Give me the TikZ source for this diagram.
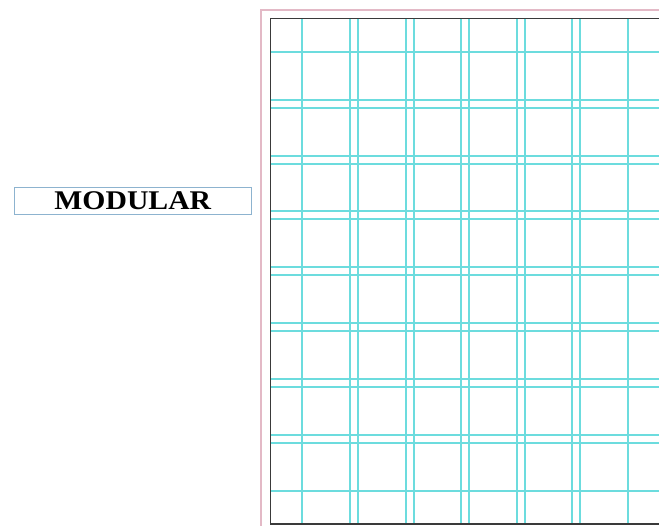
\documentclass[tikz,border=0pt]{standalone}
\usepackage{fontspec}
\newfontfamily\labelfont[FakeStretch=1.1]{Liberation Serif}
\usetikzlibrary{positioning}
\definecolor{gridcyan}{RGB}{108,220,222}
\definecolor{bleedpink}{RGB}{227,185,198}
\definecolor{tagframe}{RGB}{141,179,207}
\definecolor{pagegrey}{RGB}{58,58,58}

\begin{document}
\begin{tikzpicture}[
  x=1pt, y=-1pt,
  gridline/.style={draw=gridcyan, line width=1.3pt},
  bleedline/.style={draw=bleedpink, line width=1.2pt},
  pageline/.style={draw=pagegrey, line width=1pt},
  tag/.style={draw=tagframe, line width=0.8pt, inner sep=0pt, minimum width=237.7pt, minimum height=27pt, text=black}
]
\useasboundingbox (0,0) rectangle (659,526);

% bleed and page edges
\draw[bleedline] (261,526) -- (261,10) -- (659,10);
\draw[pageline] (659,19) -- (270,19) -- (270,524);
\draw[pageline, line width=2pt] (270,524) -- (659,524);

% columns, 6 x 48 with 8 gutter
\foreach \x in {302,350,358,406,414,461,469,517,525,572,580,628}
  \draw[gridline] (\x,19) -- (\x,523);
% rows, 8 x 48 with 8 gutter
\foreach \y in {52,100,108,156,164,211,219,267,275,323,331,379,387,435,443,491}
  \draw[gridline] (271,\y) -- (659,\y);

\node[tag, font=\labelfont\bfseries\fontsize{27}{27}\selectfont] (modular) at (132.8,200.8) {MODULAR};
\end{tikzpicture}
\end{document}
